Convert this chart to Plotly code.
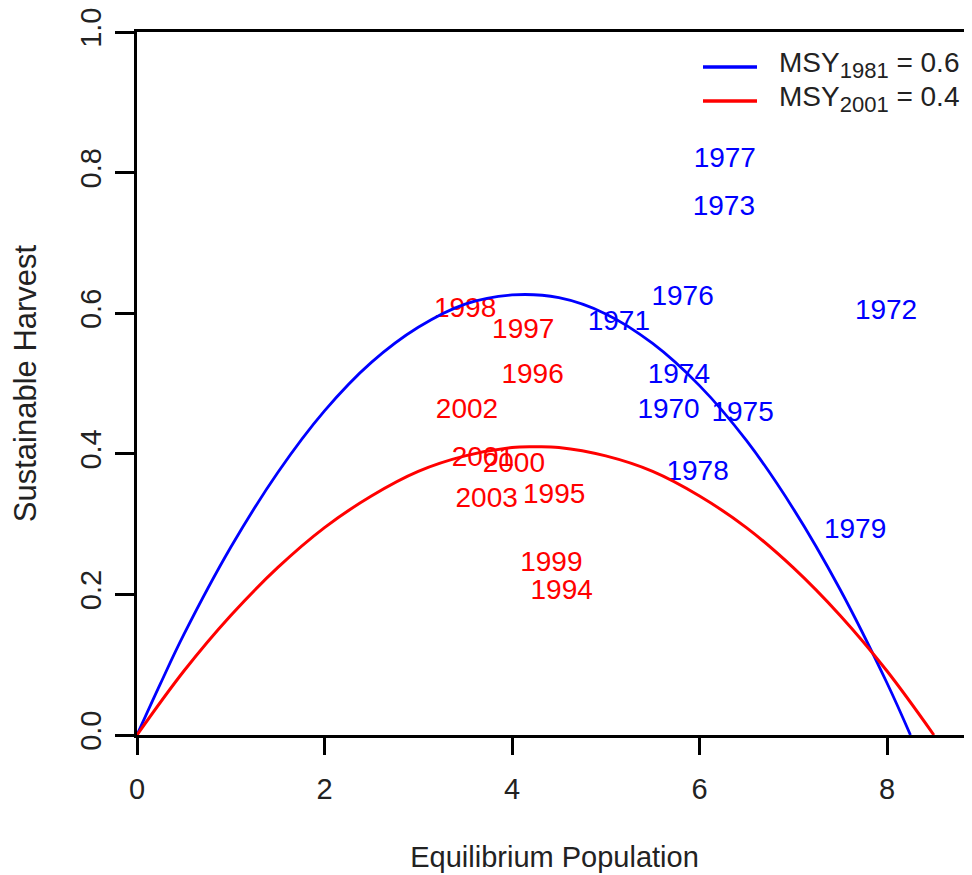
import plotly.graph_objects as go

# Curve samples
curve_x_1981 = [0, 0.25, 0.5, 1, 1.5, 2, 2.5, 3, 3.5, 4, 4.5, 5, 5.5, 6, 6.5, 7, 7.5, 8, 8.25]
curve_y_1981 = [0, 0.073, 0.143, 0.267, 0.373, 0.461, 0.530, 0.580, 0.613, 0.626, 0.622, 0.599, 0.557, 0.497, 0.419, 0.322, 0.207, 0.074, 0]
curve_x_2001 = [0, 0.5, 1, 1.5, 2, 2.5, 3, 3.5, 4, 4.25, 4.5, 5, 5.5, 6, 6.5, 7, 7.5, 8, 8.5]
curve_y_2001 = [0, 0.091, 0.170, 0.238, 0.295, 0.340, 0.375, 0.397, 0.409, 0.41, 0.409, 0.397, 0.375, 0.340, 0.295, 0.238, 0.170, 0.091, 0]

# Year labels (early period, blue)
years_early = ["1970", "1971", "1972", "1973", "1974", "1975", "1976", "1977", "1978", "1979"]
pop_early = [5.67, 5.14, 7.99, 6.26, 5.78, 6.46, 5.82, 6.27, 5.98, 7.66]
harv_early = [0.461, 0.586, 0.602, 0.750, 0.511, 0.457, 0.622, 0.818, 0.373, 0.290]

# Year labels (late period, red)
years_late = ["1994", "1995", "1996", "1997", "1998", "1999", "2001", "2000", "2002", "2003"]
pop_late = [4.53, 4.45, 4.22, 4.12, 3.50, 4.42, 3.69, 4.02, 3.52, 3.73]
harv_late = [0.203, 0.340, 0.511, 0.575, 0.605, 0.243, 0.393, 0.384, 0.461, 0.334]

legend_labels = ["MSY<sub><span style=\"font-size:22px\">1981</span></sub> = 0.6",
                 "MSY<sub><span style=\"font-size:22px\">2001</span></sub> = 0.4"]
legend_colors = ["#0000FF", "#FF0000"]

x_ticks = [0, 2, 4, 6, 8]
y_ticks = [0.0, 0.2, 0.4, 0.6, 0.8, 1.0]
y_tick_text = ["0.0", "0.2", "0.4", "0.6", "0.8", "1.0"]

FONT = "Liberation Sans, Arial, sans-serif"
TXT = "#222222"

fig = go.Figure()
fig.add_trace(go.Scatter(x=pop_early, y=harv_early, mode="text", text=years_early,
                         textfont=dict(family=FONT, size=28, color="#0000FF"),
                         showlegend=False, hoverinfo="skip", cliponaxis=False))
fig.add_trace(go.Scatter(x=pop_late, y=harv_late, mode="text", text=years_late,
                         textfont=dict(family=FONT, size=28, color="#FF0000"),
                         showlegend=False, hoverinfo="skip", cliponaxis=False))
fig.add_trace(go.Scatter(x=curve_x_1981, y=curve_y_1981, mode="lines", line=dict(color="#0000FF", width=2.8, shape="spline"),
                         showlegend=False, hoverinfo="skip"))
fig.add_trace(go.Scatter(x=curve_x_2001, y=curve_y_2001, mode="lines", line=dict(color="#FF0000", width=3, shape="spline"),
                         showlegend=False, hoverinfo="skip"))

# the page body adds an 8px offset, so the figure is sized to compensate
OFF = 8
W, H = 972 - OFF, 875 - OFF
L, T, B, R = 137 - OFF, 32 - OFF, 140, 0
pw, ph = W - L - R, H - T - B

def px_to_paper(px, py):
    px -= OFF
    py -= OFF
    return (px - L) / pw, 1 - (py - T) / ph

# Manual legend
for i, (lab, col) in enumerate(zip(legend_labels, legend_colors)):
    yy = 67 + i * 34
    x0, y0 = px_to_paper(703, yy)
    x1, _ = px_to_paper(757, yy)
    fig.add_shape(type="line", xref="paper", yref="paper", x0=x0, x1=x1, y0=y0, y1=y0,
                  line=dict(color=col, width=3.5))
    tx, ty = px_to_paper(777, yy - 2)
    fig.add_annotation(xref="paper", yref="paper", x=tx, y=ty, text=lab, showarrow=False,
                       xanchor="left", yanchor="middle", font=dict(family=FONT, size=28, color=TXT))

fig.update_layout(
    width=W, height=H,
    margin=dict(l=L, r=R, t=T, b=B, pad=0, autoexpand=False),
    plot_bgcolor="white", paper_bgcolor="white",
    font=dict(family=FONT, size=29, color=TXT),
    showlegend=False,
)
fig.update_xaxes(range=[0, pw / 93.75], tickvals=x_ticks, ticks="outside", ticklen=17, tickwidth=3,
                 tickcolor="black", showline=True, linecolor="black", linewidth=3, mirror=True,
                 showgrid=False, zeroline=False, ticklabelstandoff=9, automargin=False,
                 ticklabeloverflow="allow",
                 title=dict(text="Equilibrium Population", standoff=43, font=dict(size=29)))
fig.update_yaxes(range=[0, 1], tickvals=y_ticks, ticktext=y_tick_text, tickangle=-90, ticks="outside", ticklen=19,
                 tickwidth=3, tickcolor="black", showline=True, linecolor="black", linewidth=3, mirror=False,
                 showgrid=False, zeroline=False, ticklabelstandoff=2, automargin=False,
                 ticklabeloverflow="allow",
                 title=dict(text="Sustainable Harvest", standoff=30, font=dict(size=31)))

fig.write_html("out.html")
